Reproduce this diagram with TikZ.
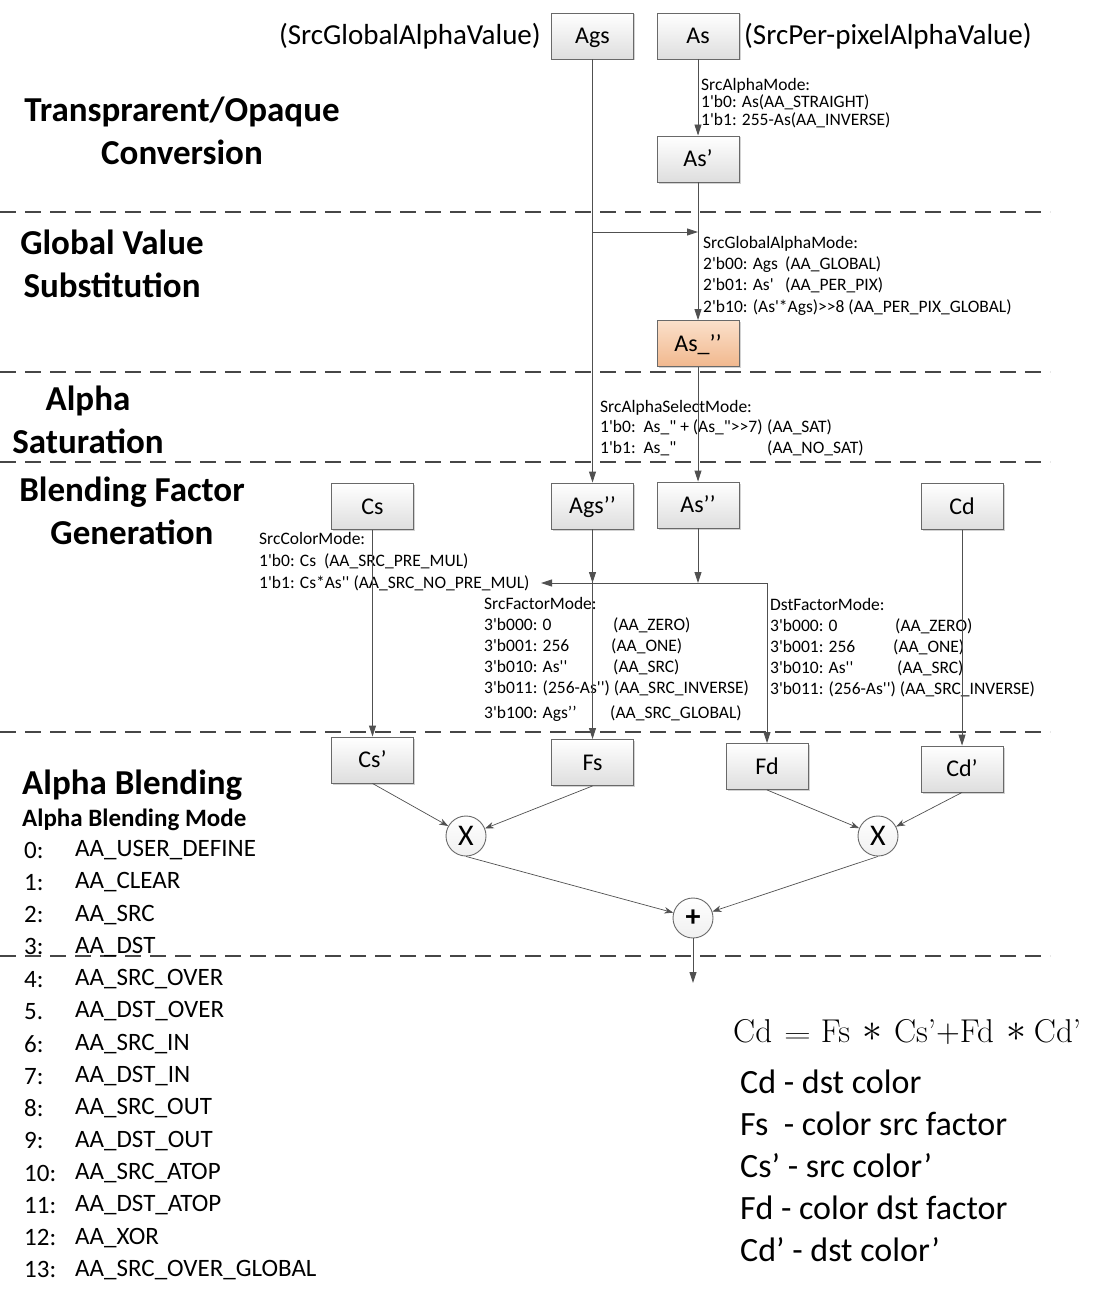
\documentclass[tikz,border=0pt]{standalone}
\usepackage{fontspec}
\usepackage{graphicx}
\setmainfont{Carlito}
\newfontfamily\notefont{Carlito}[Ligatures=TeXOff]
\newfontfamily\eqfont{Latin Modern Roman}
\usepackage{tikz}
\usetikzlibrary{arrows.meta}
\usetikzlibrary{shadows}

\definecolor{lineGray}{RGB}{80,80,80}
\definecolor{sepGray}{RGB}{70,70,70}
\definecolor{boxLine}{RGB}{105,105,105}
\definecolor{boxBot}{RGB}{222,222,222}
\definecolor{peachTop}{RGB}{251,224,202}
\definecolor{peachBot}{RGB}{241,184,142}

% fixed-width first column inside a note line
\newcommand{\col}[3]{\makebox[#1pt][l]{#2}#3}
% big centred asterisk and wide equals of the formula
\newcommand{\bigast}{\raisebox{0.02em}{\scalebox{1.6}{$\ast$}}}
\newcommand{\wideeq}{\scalebox{1.5}[1.0]{$=$}}

\begin{document}
\begin{tikzpicture}[x=1pt, y=-1pt,
    blk/.style={draw=boxLine, line width=0.9pt, top color=white, bottom color=boxBot,
        minimum width=82pt, minimum height=46pt, inner sep=0pt,
        text height=15.4pt, text depth=0pt,
        font=\fontsize{24}{28}\selectfont,
        drop shadow={shadow xshift=1.5pt, shadow yshift=-1.5pt, opacity=0.35}},
    op/.style={circle, draw=boxLine, line width=0.9pt, top color=white, bottom color=gray!12,
        minimum size=40pt, inner sep=0pt, font=\fontsize{30}{34}\selectfont},
    conn/.style={-{Triangle[length=11pt, width=7pt]}, lineGray, line width=0.9pt},
    thinconn/.style={-{Stealth[length=9pt, width=6.5pt]}, lineGray, line width=0.7pt},
    sep/.style={sepGray, line width=2.2pt, dash pattern=on 16pt off 9pt},
    note/.style={anchor=north west, inner sep=0pt, align=left,
        font=\notefont\fontsize{17.5}{21.3}\selectfont},
    stage/.style={align=center, inner sep=0pt, font=\fontsize{35}{43}\selectfont\bfseries},
    item/.style={anchor=west, inner sep=0pt, font=\fontsize{25}{30}\selectfont},
]
\fill[white] (0,0) rectangle (1097,1303);
\useasboundingbox (0,0) rectangle (1097,1303);

% --- STAGE SEPARATORS ---
\foreach \y in {212,372,462,732,956}
    \draw[sep] (0,\y) -- (1050,\y);

% --- STAGE TITLES ---
\node[stage] (convTitle) at (182,131) {Transprarent/Opaque\\Conversion};
\node[stage] (substTitle) at (112,264) {Global Value\\Substitution};
\node[stage] (satTitle) at (88,420) {Alpha\\Saturation};
\node[stage] (genTitle) at (132,511) {Blending Factor\\Generation};
\node[stage, anchor=west] (blendTitle) at (22,785) {Alpha Blending};

% --- ALPHA PATH ---
\node[blk] (ags) at (592.5,36) {Ags};
\node[blk] (as) at (698,36) {As};
\node[anchor=east, inner sep=0pt, font=\fontsize{29}{33}\selectfont] (agsLbl) at (541,36) {(SrcGlobalAlphaValue)};
\node[anchor=west, inner sep=0pt, font=\fontsize{29}{33}\selectfont] (asLbl) at (744,36) {(SrcPer-pixelAlphaValue)};
\node[blk] (asp) at (698,159) {As’};
\node[blk, top color=peachTop, bottom color=peachBot] (asg) at (698,343.5) {As\_’’};
\node[blk] (agsp) at (592.5,506) {Ags’’};
\node[blk] (aspp) at (698,505) {As’’};

\node[note, font=\notefont\fontsize{17.5}{17.5}\selectfont] (alphaModeTxt) at (701,78)
    {SrcAlphaMode:\\1'b0: As(AA\_STRAIGHT)\\1'b1: 255-As(AA\_INVERSE)};
\node[note] (globalModeTxt) at (703,236)
    {SrcGlobalAlphaMode:\\
     \col{82}{2'b00: Ags}{(AA\_GLOBAL)}\\
     \col{82}{2'b01: As'}{(AA\_PER\_PIX)}\\
     2'b10: (As'*Ags)>>8 (AA\_PER\_PIX\_GLOBAL)};
\node[note, font=\notefont\fontsize{17.5}{20.5}\selectfont] (selectModeTxt) at (600,400)
    {SrcAlphaSelectMode:\\
     \col{167}{1'b0:\ \ As\_" + (As\_">>7)}{(AA\_SAT)}\\
     \col{167}{1'b1:\ \ As\_"}{(AA\_NO\_SAT)}};

\draw[conn] (as) -- (asp);
\draw[conn] (asp) -- (asg);
\coordinate (gsplit) at (592.5,232);
\draw[conn] (gsplit) -- (gsplit -| asp);
\draw[conn] (asg) -- (aspp);
\draw[conn] (ags) -- (agsp);

% --- BLENDING FACTORS ---
\node[blk] (cs) at (372.5,506.5) {Cs};
\node[blk] (cd) at (962,506.5) {Cd};
\node[blk] (csp) at (372.5,760) {Cs’};
\node[blk] (fs) at (592.5,762.5) {Fs};
\node[blk] (fd) at (767,766.5) {Fd};
\node[blk] (cdp) at (962,769) {Cd’};

\node[note, font=\notefont\fontsize{17.5}{22}\selectfont] (colorModeTxt) at (259,532)
    {SrcColorMode:\\1'b0: Cs\ \ (AA\_SRC\_PRE\_MUL)\\1'b1: Cs*As'' (AA\_SRC\_NO\_PRE\_MUL)};
\node[note, font=\notefont\fontsize{17.5}{21}\selectfont] (srcFactorTxt) at (484,597)
    {SrcFactorMode:\\
     \col{129}{3'b000: 0}{(AA\_ZERO)}\\
     \col{127}{3'b001: 256}{(AA\_ONE)}\\
     \col{129}{3'b010: As''}{(AA\_SRC)}\\
     3'b011: (256-As'') (AA\_SRC\_INVERSE)\\[4pt]
     \col{126}{3'b100: Ags’’}{(AA\_SRC\_GLOBAL)}};
\node[note, font=\notefont\fontsize{17.5}{21}\selectfont] (dstFactorTxt) at (770,598)
    {DstFactorMode:\\
     \col{125}{3'b000: 0}{(AA\_ZERO)}\\
     \col{123}{3'b001: 256}{(AA\_ONE)}\\
     \col{127}{3'b010: As''}{(AA\_SRC)}\\
     3'b011: (256-As'') (AA\_SRC\_INVERSE)};

\coordinate (busR) at (767,583);
\coordinate (busL) at (541,583);
\draw[conn] (agsp) -- (fs);
\draw[conn] (agsp.south) -- (agsp.south |- busR);
\draw[conn] (aspp.south) -- (aspp.south |- busR);
\draw[conn] (busR) -- (busL);
\draw[conn] (busR) -- (fd);
\draw[conn] (cs) -- (csp);
\draw[conn] (cd) -- (cdp);

% --- ALPHA BLENDING ---
\node[op] (mulL) at (466,836) {X};
\node[op] (mulR) at (878,836) {X};
\node[op] (add) at (693,918) {\textbf{+}};
\coordinate (out) at (693,983);

\draw[thinconn] (csp.south) -- (mulL);
\draw[thinconn] (fs.south) -- (mulL);
\draw[thinconn] (fd.south) -- (mulR);
\draw[thinconn] (cdp.south) -- (mulR);
\draw[thinconn] (mulL.south) -- (add);
\draw[thinconn] (mulR.south) -- (add);
\draw[conn] (add) -- (out);

\node[anchor=west, inner sep=0pt, font=\fontsize{25}{30}\selectfont\bfseries] (modeTitle) at (22,820) {Alpha Blending Mode};
\foreach \n/\m [count=\i from 0] in {0:/AA\_USER\_DEFINE, 1:/AA\_CLEAR, 2:/AA\_SRC, 3:/AA\_DST,
        4:/AA\_SRC\_OVER, 5./AA\_DST\_OVER, 6:/AA\_SRC\_IN, 7:/AA\_DST\_IN, 8:/AA\_SRC\_OUT,
        9:/AA\_DST\_OUT, 10:/AA\_SRC\_ATOP, 11:/AA\_DST\_ATOP, 12:/AA\_XOR, 13:/AA\_SRC\_OVER\_GLOBAL} {
    \node[item] (num\i) at (24,850+32.3*\i) {\n};
    \node[item] (mode\i) at (75,850+32.3*\i) {\m};
}

% --- RESULT ---
\node[anchor=west, inner sep=0pt, font=\eqfont\fontsize{33}{37}\selectfont] (eqn) at (733,1032)
    {Cd\hspace{12pt}\wideeq\hspace{10pt}Fs\hspace{12pt}\bigast\hspace{12pt}Cs’+Fd\hspace{12pt}\bigast\hspace{8pt}Cd’};
\node[anchor=north west, inner sep=0pt, align=left, font=\fontsize{34}{41.8}\selectfont] (legend) at (740,1070)
    {Cd - dst color\\Fs\ \ - color src factor\\Cs’ - src color’\\Fd - color dst factor\\Cd’ - dst color’};
\end{tikzpicture}
\end{document}
